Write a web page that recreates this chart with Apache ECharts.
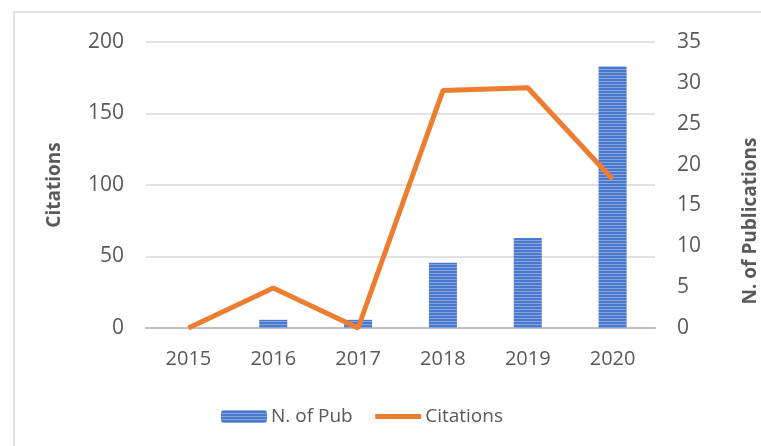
<!DOCTYPE html>
<html>
<head>
<meta charset="utf-8">
<script src="https://cdn.jsdelivr.net/npm/echarts@6/dist/echarts.min.js"></script>
<style>
  html, body { margin: 0; padding: 0; background: #fff; }
  #chart { width: 761px; height: 446px; }
</style>
</head>
<body>
<div id="chart"></div>
<script>
const years = ["2015", "2016", "2017", "2018", "2019", "2020"];
const pubCounts = [0, 1, 1, 8, 11, 32];
const citations = [0, 28, 0, 166, 168, 104];

const font = "'Open Sans', 'Liberation Sans', sans-serif";
const gray = "#595959";

const chart = echarts.init(document.getElementById("chart"));

chart.setOption({
  animation: false,
  backgroundColor: "#fff",
  graphic: [
    {
      type: "rect",
      shape: { x: 14, y: 12, width: 800, height: 500 },
      style: { fill: "none", stroke: "#d9d9d9", lineWidth: 1.5 },
      silent: true
    }
  ],
  grid: { left: 146, right: 106, top: 42, bottom: 118, outerBoundsMode: "none", containLabel: false },
  legend: {
    bottom: 15,
    left: 216,
    itemWidth: 46,
    itemHeight: 13,
    itemGap: 20,
    textStyle: { fontFamily: font, fontSize: 19, color: gray, padding: [0, 0, 0, -1] },
    data: [
      { name: "N. of Pub" },
      { name: "Citations", itemStyle: { opacity: 0 }, lineStyle: { width: 5, color: "#ED7D31" } }
    ]
  },
  xAxis: {
    type: "category",
    data: years,
    axisTick: { show: false },
    axisLine: { lineStyle: { color: "#bfbfbf", width: 2 } },
    axisLabel: { fontFamily: font, fontSize: 20, color: gray, margin: 21 }
  },
  yAxis: [
    {
      type: "value",
      min: 0,
      max: 200,
      interval: 50,
      name: "Citations",
      nameLocation: "middle",
      nameGap: 82,
      nameTextStyle: { fontFamily: font, fontSize: 19, fontWeight: "bold", color: gray },
      axisLabel: { fontFamily: font, fontSize: 21, color: gray, margin: 22 },
      splitLine: { lineStyle: { color: "#d9d9d9", width: 1.5 } }
    },
    {
      type: "value",
      min: 0,
      max: 35,
      interval: 5,
      name: "N. of Publications",
      nameLocation: "middle",
      nameGap: 86,
      nameTextStyle: {
        fontFamily: font, fontSize: 19, fontWeight: "bold", color: gray,
        padding: [0, 72, 0, 0]
      },
      axisLabel: { fontFamily: font, fontSize: 21, color: gray, margin: 22 },
      splitLine: { show: false }
    }
  ],
  series: [
    {
      name: "N. of Pub",
      type: "bar",
      yAxisIndex: 1,
      data: pubCounts,
      barWidth: 28,
      itemStyle: {
        color: "#4A78CC",
        decal: {
          symbol: "rect",
          symbolSize: 1,
          dashArrayX: [1, 0],
          dashArrayY: [1, 2],
          color: "rgba(255,255,255,0.35)"
        }
      }
    },
    {
      name: "Citations",
      type: "line",
      yAxisIndex: 0,
      data: citations,
      symbol: "none",
      z: 5,
      lineStyle: { color: "#ED7D31", width: 5 },
      itemStyle: { color: "#ED7D31" }
    }
  ]
});
</script>
</body>
</html>
